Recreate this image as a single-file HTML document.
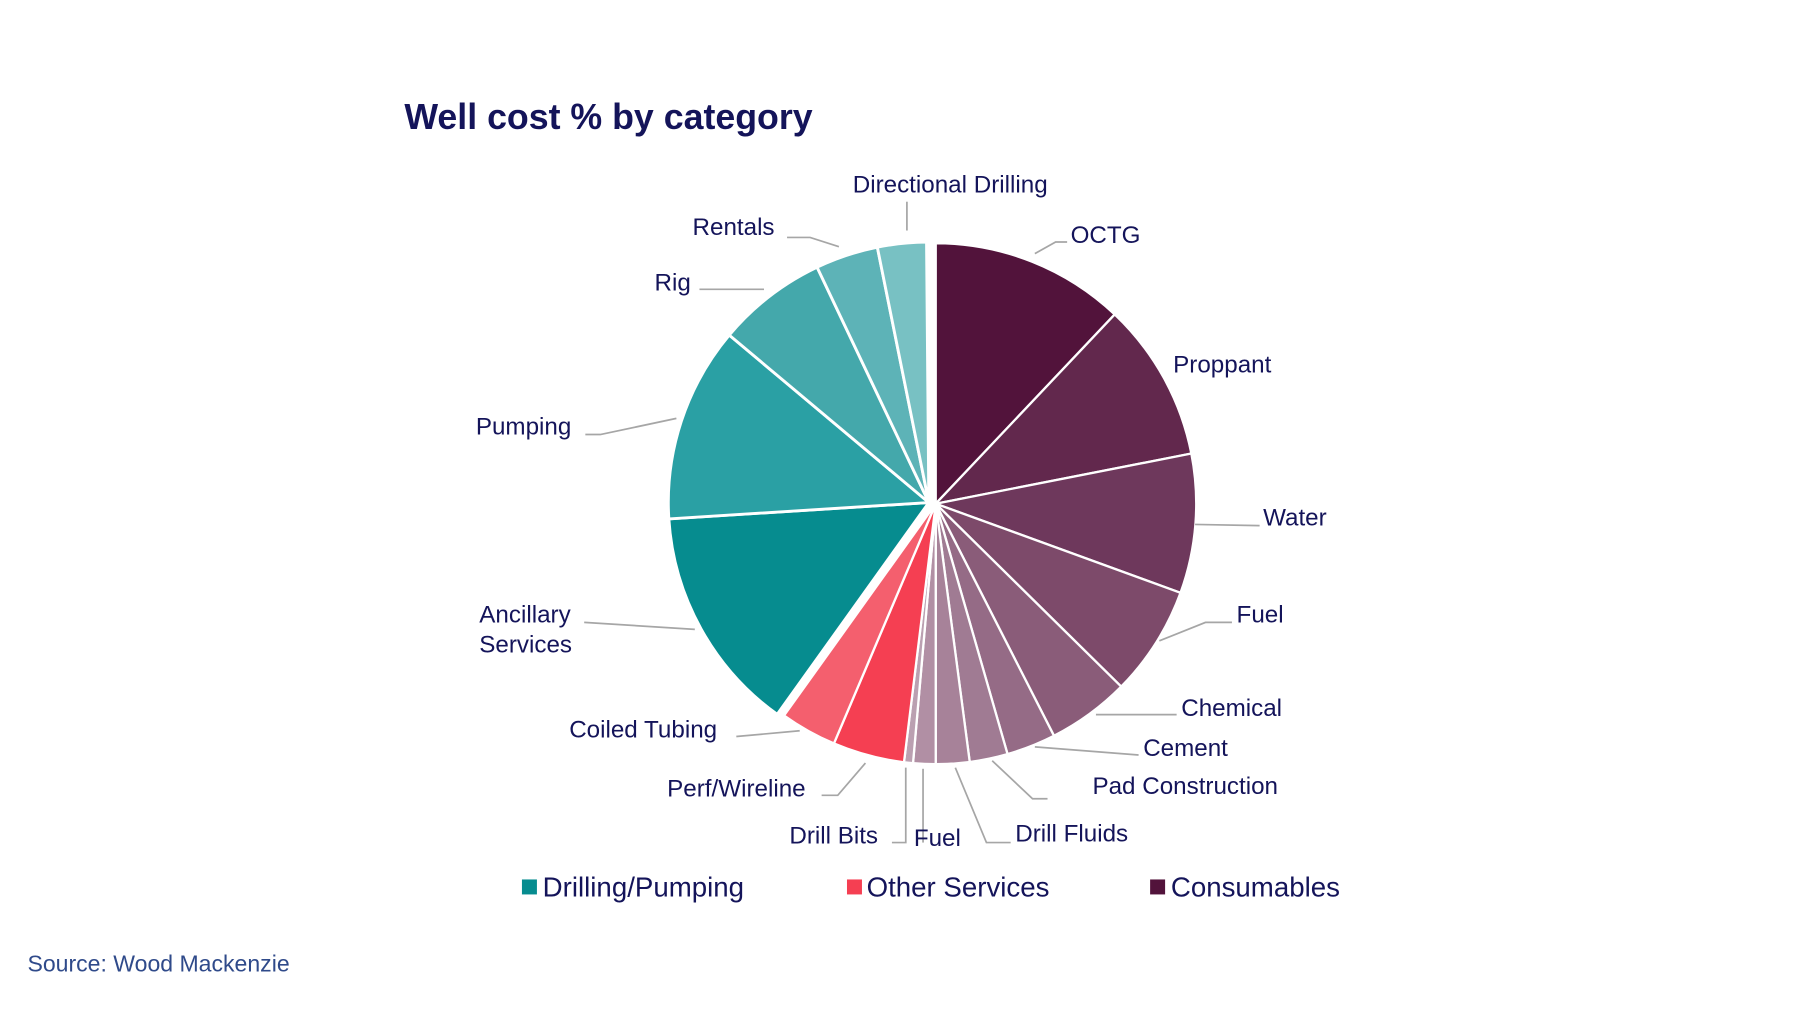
<!DOCTYPE html>
<html><head><meta charset="utf-8"><style>
html,body{margin:0;padding:0;background:#fff;}
svg{display:block;font-family:"Liberation Sans",Arial,sans-serif;}
</style></head><body>
<svg id="s" width="1800" height="1012" viewBox="0 0 1560 878" xmlns="http://www.w3.org/2000/svg">
<rect width="1560" height="878" fill="#fff"/>
<text x="350" y="112" font-size="31" font-weight="bold" fill="#14145a">Well cost % by category</text>
<g id="pie"></g>
<g stroke="#a6a6a6" stroke-width="1.5" fill="none">
<polyline points="786,200 786,175"/>
<polyline points="727,214 702,206 682,206"/>
<polyline points="662,251 606,251"/>
<polyline points="586,363 520,377 507,377"/>
<polyline points="602,546 506,540"/>
<polyline points="693,634 638,639"/>
<polyline points="750,662 726,690 712,690"/>
<polyline points="785,666 785,731 773,731"/>
<polyline points="800,667 800,731"/>
<polyline points="828,666 855,731 876,731"/>
<polyline points="860,660 895,693 908,693"/>
<polyline points="897,648 987,655"/>
<polyline points="950,620 1020,620"/>
<polyline points="1005,556 1045,540 1068,540"/>
<polyline points="1036,455 1092,456"/>
<polyline points="897,220 915,210 925,210"/>
</g>
<g font-size="21" fill="#14145a">
<text x="739" y="167">Directional Drilling</text>
<text x="600" y="204">Rentals</text>
<text x="567" y="252">Rig</text>
<text x="412" y="377">Pumping</text>
<text x="415" y="540">Ancillary</text>
<text x="415" y="566">Services</text>
<text x="493" y="640">Coiled Tubing</text>
<text x="578" y="691">Perf/Wireline</text>
<text x="684" y="732">Drill Bits</text>
<text x="792" y="734">Fuel</text>
<text x="880" y="730">Drill Fluids</text>
<text x="947" y="689">Pad Construction</text>
<text x="991" y="656">Cement</text>
<text x="1024" y="621">Chemical</text>
<text x="1072" y="540">Fuel</text>
<text x="1095" y="456">Water</text>
<text x="1017" y="323">Proppant</text>
<text x="928" y="211">OCTG</text>
</g>
<g font-size="24" fill="#14145a">
<rect x="452" y="763" width="13" height="13" fill="#068c8f"/><text x="470" y="778">Drilling/Pumping</text>
<rect x="734" y="763" width="13" height="13" fill="#f53f52"/><text x="751" y="778">Other Services</text>
<rect x="997" y="763" width="13" height="13" fill="#52133b"/><text x="1015" y="778">Consumables</text>
</g>
<text x="23" y="843" font-size="20" fill="#2f4a8a">Source: Wood Mackenzie</text>
</svg>
<script>
var segs=[
[0,43.4,"#52133b",0],[43.4,78.9,"#62284d",0],[78.9,110,"#6e385c",0],[110,134.6,"#7d4a6a",0],
[134.6,153,"#8a5c79",0],[153,164,"#956b86",0],[164,172.5,"#a07b93",0],[172.5,180,"#a78299",0],
[180,185,"#b18fa4",0],[185,187,"#bba0b1",0],
[187,203,"#f53f52",0],[203,215.6,"#f45f6e",0],
[215.6,266.4,"#068c8f",1],[266.4,310,"#2aa0a4",1],[310,334.6,"#44a8ab",1],[334.6,348.6,"#5db3b7",1],[348.6,359.5,"#78c1c3",1]];
var g=document.getElementById("pie"),h="";
function pt(cx,cy,r,a){a=a*Math.PI/180;return (cx+r*Math.sin(a)).toFixed(2)+","+(cy-r*Math.cos(a)).toFixed(2);}
segs.forEach(function(s){
 var cx=s[3]?805:811, cy=s[3]?436:437, r=226;
 var large=(s[1]-s[0])>180?1:0;
 h+='<path d="M'+cx+','+cy+' L'+pt(cx,cy,r,s[0])+' A'+r+','+r+' 0 '+large+' 1 '+pt(cx,cy,r,s[1])+' Z" fill="'+s[2]+'" stroke="#fff" stroke-width="'+(s[3]?2.5:2)+'"/>';
});
g.innerHTML=h;
</script>
</body></html>
